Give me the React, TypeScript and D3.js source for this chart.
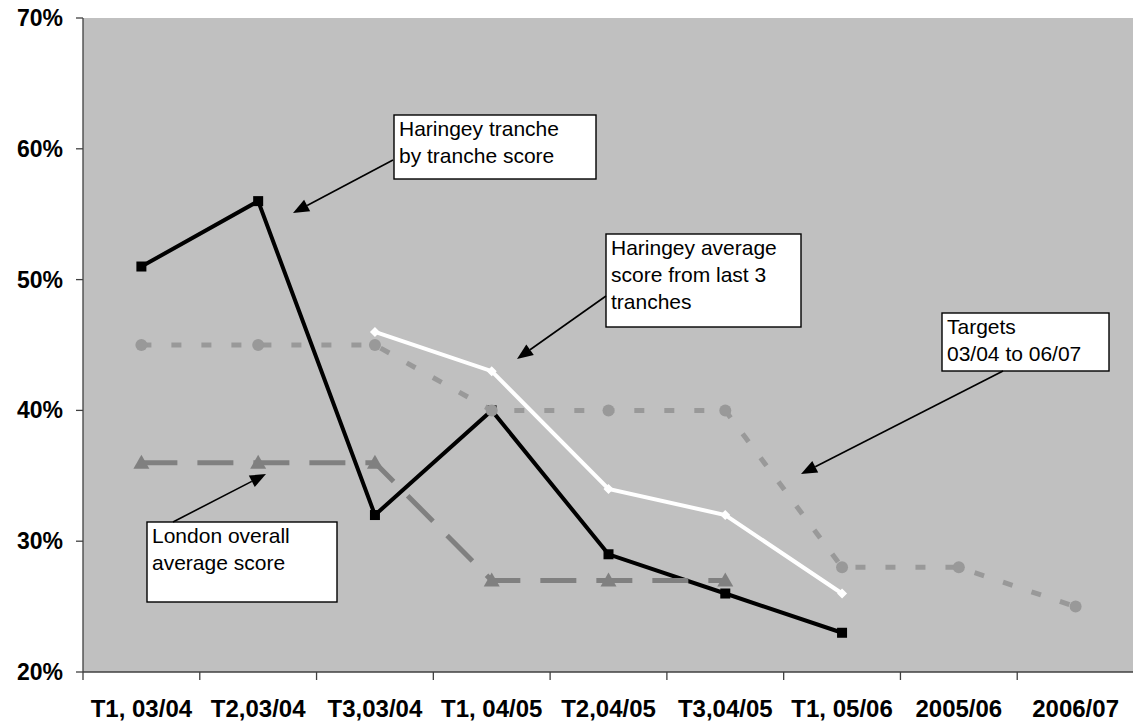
import React from "react";
import * as d3 from "d3";

const categories = ["T1, 03/04", "T2,03/04", "T3,03/04", "T1, 04/05", "T2,04/05", "T3,04/05", "T1, 05/06", "2005/06", "2006/07"];
const trancheScore: (number | null)[] = [51, 56, 32, 40, 29, 26, 23, null, null];
const averageScore: (number | null)[] = [null, null, 46, 43, 34, 32, 26, null, null];
const targets: (number | null)[] = [45, 45, 45, 40, 40, 40, 28, 28, 25];
const londonAverage: (number | null)[] = [36, 36, 36, 27, 27, 27, null, null, null];
const yTicks = [20, 30, 40, 50, 60, 70];

const annotations = [
  { x: 394, y: 115, w: 202, h: 64, lines: ["Haringey tranche", "by tranche score"], from: [393, 160], to: [293, 213] },
  { x: 606, y: 234, w: 195, h: 93, lines: ["Haringey average", "score from last 3", "tranches"], from: [606, 296], to: [517, 359] },
  { x: 942, y: 313, w: 167, h: 58, lines: ["Targets", "03/04 to 06/07"], from: [1003, 371], to: [801, 474] },
  { x: 147, y: 522, w: 190, h: 80, lines: ["London overall", "average score"], from: [173, 522], to: [266, 474] },
];

const W = 1133, H = 725;
const L = 83, R = 1134, T = 18, B = 672;

function arrowHead(from: number[], to: number[], len = 16, wid = 13) {
  const dx = to[0] - from[0], dy = to[1] - from[1];
  const d = Math.hypot(dx, dy);
  const ux = dx / d, uy = dy / d;
  const bx = to[0] - ux * len, by = to[1] - uy * len;
  const px = -uy * wid / 2, py = ux * wid / 2;
  return { pts: `${to[0]},${to[1]} ${bx + px},${by + py} ${bx - px},${by - py}`, base: [bx, by] };
}

export default function App() {
  const x = d3.scaleBand<string>().domain(categories).range([L, R]);
  const y = d3.scaleLinear().domain([20, 70]).range([B, T]);
  const cx = (i: number) => (x(categories[i]) as number) + x.bandwidth() / 2;

  const mk = (vals: (number | null)[]) =>
    d3.line<number | null>()
      .defined((v) => v !== null)
      .x((_, i) => cx(i))
      .y((v) => y(v as number))(vals) || "";

  const font = "'Liberation Sans', Arial, Helvetica, sans-serif";

  return (
    <svg width={W} height={H} style={{ position: "absolute", left: 0, top: 0 }} fontFamily={font}>
      <rect x={L} y={T} width={R - L} height={B - T} fill="#c0c0c0" />

      {/* Haringey tranche by tranche */}
      <path d={mk(trancheScore)} fill="none" stroke="#000" strokeWidth={4} strokeLinejoin="miter" />
      {trancheScore.map((v, i) => v === null ? null : (
        <rect key={"s" + i} x={cx(i) - 5} y={y(v) - 5} width={10} height={10} fill="#000" />
      ))}

      {/* Haringey average */}
      <path d={mk(averageScore)} fill="none" stroke="#fff" strokeWidth={4} />
      {averageScore.map((v, i) => v === null ? null : (
        <path key={"d" + i} d={`M${cx(i)},${y(v) - 5}L${cx(i) + 5},${y(v)}L${cx(i)},${y(v) + 5}L${cx(i) - 5},${y(v)}Z`} fill="#fff" />
      ))}

      {/* Targets */}
      <path d={mk(targets)} fill="none" stroke="#999999" strokeWidth={5} strokeDasharray="10 20" />
      {targets.map((v, i) => v === null ? null : (
        <circle key={"c" + i} cx={cx(i)} cy={y(v)} r={6} fill="#999999" />
      ))}

      {/* London average */}
      <path d={mk(londonAverage)} fill="none" stroke="#808080" strokeWidth={5} strokeDasharray="36 20" />
      {londonAverage.map((v, i) => v === null ? null : (
        <path key={"t" + i} d={`M${cx(i)},${y(v) - 8}L${cx(i) + 8},${y(v) + 6}L${cx(i) - 8},${y(v) + 6}Z`} fill="#808080" />
      ))}

      {/* Axes */}
      <line x1={L} y1={T} x2={L} y2={B} stroke="#404040" strokeWidth={1.3} />
      <line x1={L} y1={B} x2={R} y2={B} stroke="#404040" strokeWidth={1.3} />
      {yTicks.map((t) => (
        <g key={"y" + t}>
          <line x1={L - 7} x2={L} y1={y(t)} y2={y(t)} stroke="#404040" strokeWidth={1.3} />
          <text x={63} y={y(t) + 8} textAnchor="end" fontWeight="bold" fontSize={23}>{t}%</text>
        </g>
      ))}
      {categories.map((c, i) => (
        <g key={"x" + i}>
          <line x1={x(c) as number} x2={x(c) as number} y1={B} y2={B + 8} stroke="#404040" strokeWidth={1.3} />
          <text x={cx(i)} y={717} textAnchor="middle" fontWeight="bold" fontSize={24}>{c}</text>
        </g>
      ))}

      {/* Annotations */}
      {annotations.map((a, k) => {
        const ah = arrowHead(a.from, a.to);
        return (
          <g key={"a" + k}>
            <rect x={a.x} y={a.y} width={a.w} height={a.h} fill="#fff" stroke="#000" strokeWidth={1.4} />
            {a.lines.map((ln, j) => (
              <text key={j} x={a.x + 5} y={a.y + 21 + j * 27} fontSize={21}>{ln}</text>
            ))}
            <line x1={a.from[0]} y1={a.from[1]} x2={ah.base[0]} y2={ah.base[1]} stroke="#000" strokeWidth={1.6} />
            <polygon points={ah.pts} fill="#000" />
          </g>
        );
      })}
    </svg>
  );
}
